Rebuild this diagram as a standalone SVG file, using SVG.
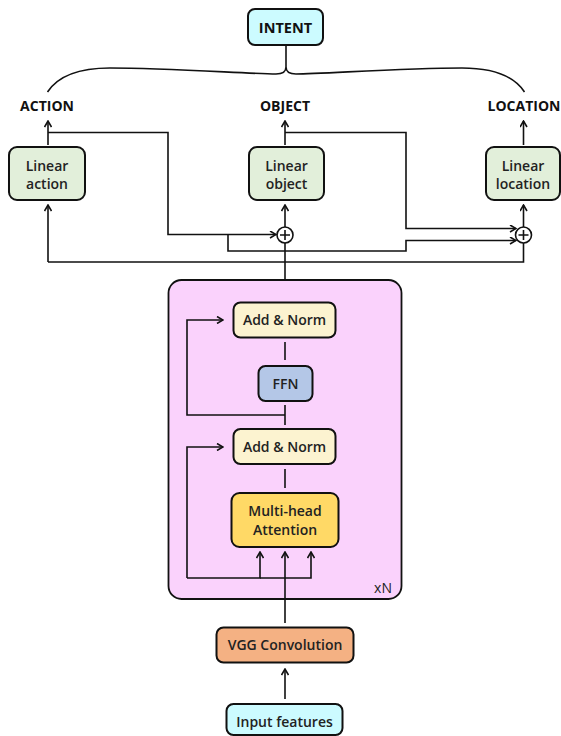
<svg xmlns="http://www.w3.org/2000/svg" width="561" height="736" viewBox="0 0 561 736">
<defs>
<marker id="ah" viewBox="0 0 8 8" refX="7" refY="4" markerWidth="8" markerHeight="8" markerUnits="userSpaceOnUse" orient="auto">
<path d="M1,0.5 L7,4 L1,7.5" fill="none" stroke="#111" stroke-width="1.6"/>
</marker>
<style>
.box{stroke:#111;stroke-width:2}
.t{font-family:"Open Sans","Noto Sans",sans-serif;font-size:14px;font-weight:600;fill:#222;text-anchor:middle}
.b{font-weight:700;fill:#111}
.c{fill:none;stroke:#111;stroke-width:1.6}
.a{marker-end:url(#ah)}
</style>
</defs>
<rect width="561" height="736" fill="#ffffff"/>

<g id="encoder">
<rect x="168.5" y="280" width="233" height="319" rx="13" fill="#fad2fc" stroke="#111" stroke-width="1.8"/>
<text class="t" x="383" y="593" style="font-weight:500">xN</text>
</g>

<g id="connectors">
<path class="c" d="M47.5,92 C58,76 80,68 110,68 C170,68 250,74 276,74 C282,74 286,72 286,67 C286,72 290,74 296,74 C322,74 402,68 462,68 C492,68 514,76 524.5,92"/>
<path class="c" d="M286,45 V67"/>
<path class="c a" d="M48,145 V121"/>
<path class="c a" d="M285,145 V121"/>
<path class="c a" d="M523.5,145 V121"/>
<path class="c a" d="M48,132.5 H168 V234.5 H276"/>
<path class="c a" d="M285,132.5 H406 V228.5 H516"/>
<path class="c a" d="M228,234.5 V251 H406 V240.5 H516"/>
<path class="c a" d="M48,262 V205"/>
<path class="c" d="M48,262 H523.5 V243"/>
<path class="c" d="M285,280 V243"/>
<path class="c a" d="M285,227 V205"/>
<path class="c a" d="M523.5,227 V205"/>
<circle cx="285" cy="235" r="8" fill="#fff" stroke="#111" stroke-width="1.6"/>
<path class="c" d="M280,235 H290 M285,230 V240"/>
<circle cx="523.5" cy="235" r="8" fill="#fff" stroke="#111" stroke-width="1.6"/>
<path class="c" d="M518.5,235 H528.5 M523.5,230 V240"/>
<path class="c" d="M285,342 V360"/>
<path class="c" d="M285,405 V425"/>
<path class="c a" d="M285,415 H187 V320 H223"/>
<path class="c" d="M285,469 V488"/>
<path class="c a" d="M187,578 V447 H223"/>
<path class="c a" d="M187,578 H260 V552"/>
<path class="c a" d="M260,578 H311 V552"/>
<path class="c a" d="M285,623 V552"/>
<path class="c a" d="M285,699 V669"/>
</g>

<g id="intent">
<rect class="box" x="248" y="9" width="75" height="36" rx="7" fill="#ccfbff"/>
<text class="t b" x="285.5" y="32.5" style="font-size:14.5px">INTENT</text>
</g>
<g id="label-action"><text class="t b" x="47" y="111">ACTION</text></g>
<g id="label-object"><text class="t b" x="285" y="111">OBJECT</text></g>
<g id="label-location"><text class="t b" x="524" y="111">LOCATION</text></g>

<g id="linear-action">
<rect class="box" x="9" y="147" width="76" height="53" rx="8" fill="#e2efda"/>
<text class="t" x="47" y="171">Linear</text>
<text class="t" x="47" y="189">action</text>
</g>
<g id="linear-object">
<rect class="box" x="249" y="147" width="75" height="53" rx="8" fill="#e2efda"/>
<text class="t" x="286.5" y="171">Linear</text>
<text class="t" x="286.5" y="189">object</text>
</g>
<g id="linear-location">
<rect class="box" x="486" y="147" width="74" height="53" rx="8" fill="#e2efda"/>
<text class="t" x="523" y="171">Linear</text>
<text class="t" x="523" y="189">location</text>
</g>

<g id="addnorm-top">
<rect class="box" x="233.5" y="302.5" width="102" height="35" rx="7" fill="#fcf3d0"/>
<text class="t" x="284.5" y="325">Add &amp; Norm</text>
</g>
<g id="ffn">
<rect class="box" x="258.5" y="366" width="54" height="35" rx="7" fill="#b4c7e7"/>
<text class="t" x="285.5" y="388.5">FFN</text>
</g>
<g id="addnorm-bottom">
<rect class="box" x="233.5" y="429" width="102" height="35" rx="7" fill="#fcf3d0"/>
<text class="t" x="284.5" y="451.5">Add &amp; Norm</text>
</g>
<g id="mha">
<rect class="box" x="231.5" y="493" width="107" height="54" rx="8" fill="#ffd966"/>
<text class="t" x="285" y="516">Multi-head</text>
<text class="t" x="285" y="535">Attention</text>
</g>
<g id="vgg">
<rect class="box" x="216.5" y="627.5" width="137" height="35" rx="7" fill="#f4b183"/>
<text class="t" x="285" y="650">VGG Convolution</text>
</g>
<g id="input">
<rect class="box" x="226.5" y="704" width="116" height="31" rx="7" fill="#ccfbff"/>
<text class="t" x="284.5" y="727">Input features</text>
</g>
</svg>
